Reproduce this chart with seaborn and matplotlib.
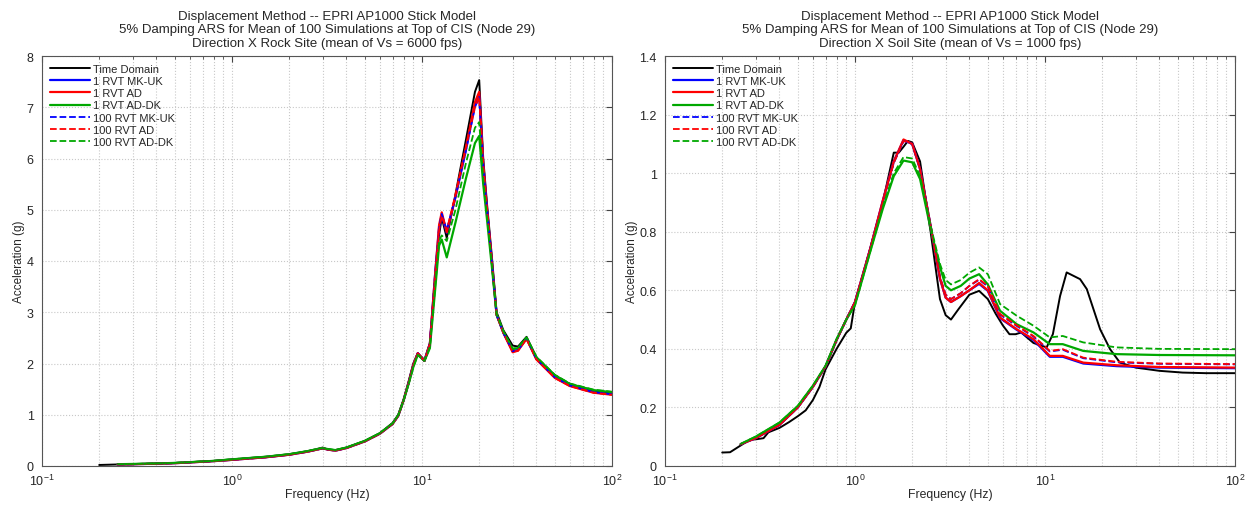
import numpy as np
import pandas as pd
import matplotlib
matplotlib.use("Agg")
import matplotlib.pyplot as plt
import seaborn as sns
from matplotlib.ticker import LogLocator, NullFormatter, MultipleLocator

sns.set_style("white")
plt.rcParams['font.family'] = ['Liberation Sans', 'DejaVu Sans']

# ---------------- data ----------------
labels = ["Time Domain", "1 RVT MK-UK", "1 RVT AD", "1 RVT AD-DK",
          "100 RVT MK-UK", "100 RVT AD", "100 RVT AD-DK"]

# Rock site (left)
rock_freq_td = [0.2, 0.25, 0.3, 0.4, 0.5, 0.6, 0.8, 1.0, 1.5, 2.0, 2.5, 2.8, 3.0, 3.2, 3.5, 4.0,
                5.0, 6.0, 7.0, 7.5, 8.0, 8.5, 9.0, 9.5, 10.3, 11.0, 11.7, 12.3, 12.7, 13.5, 15.0,
                17.0, 19.0, 20.0, 21.0, 22.0, 23.3, 24.7, 26.8, 30.0, 32.0, 35.5, 40.0, 50.0,
                60.0, 80.0, 100.0]
rock_freq_rvt = rock_freq_td[1:]

rock_td = [0.02, 0.03, 0.035, 0.05, 0.06, 0.075, 0.10, 0.13, 0.18, 0.23, 0.29, 0.33, 0.36, 0.32,
           0.31, 0.36, 0.49, 0.64, 0.84, 1.0, 1.3, 1.65, 2.0, 2.2, 2.07, 2.4, 3.6, 4.5, 4.85,
           4.45, 5.3, 6.35, 7.3, 7.53, 6.0, 5.1, 4.1, 3.0, 2.65, 2.35, 2.33, 2.52, 2.12, 1.77,
           1.6, 1.47, 1.43]
rock_1_mkuk = [0.03, 0.035, 0.045, 0.055, 0.07, 0.095, 0.12, 0.17, 0.22, 0.28, 0.32, 0.345, 0.32,
               0.30, 0.35, 0.48, 0.63, 0.82, 0.98, 1.28, 1.62, 1.97, 2.2, 2.05, 2.38, 3.7, 4.65,
               4.9, 4.55, 5.25, 6.15, 7.05, 7.25, 5.9, 5.0, 4.0, 2.95, 2.6, 2.24, 2.26, 2.49, 2.09,
               1.73, 1.57, 1.44, 1.40]
rock_1_ad = [0.03, 0.035, 0.045, 0.055, 0.07, 0.095, 0.12, 0.17, 0.22, 0.28, 0.32, 0.345, 0.32,
             0.30, 0.35, 0.48, 0.63, 0.82, 0.98, 1.28, 1.62, 1.97, 2.2, 2.05, 2.38, 3.7, 4.7,
             4.95, 4.56, 5.25, 6.2, 7.1, 7.3, 5.9, 5.0, 4.0, 2.95, 2.6, 2.22, 2.25, 2.48, 2.08,
             1.72, 1.56, 1.43, 1.39]
rock_1_addk = [0.035, 0.04, 0.05, 0.06, 0.075, 0.10, 0.13, 0.18, 0.23, 0.29, 0.33, 0.35, 0.33,
               0.31, 0.36, 0.49, 0.64, 0.83, 0.99, 1.28, 1.6, 1.93, 2.17, 2.05, 2.3, 3.4, 4.3,
               4.42, 4.07, 4.75, 5.6, 6.3, 6.44, 5.5, 4.8, 3.9, 2.95, 2.62, 2.28, 2.3, 2.5, 2.12,
               1.77, 1.6, 1.48, 1.44]
rock_100_mkuk = [0.03, 0.035, 0.045, 0.055, 0.07, 0.095, 0.12, 0.17, 0.22, 0.28, 0.32, 0.345,
                 0.32, 0.30, 0.35, 0.48, 0.63, 0.82, 0.98, 1.28, 1.62, 1.97, 2.2, 2.05, 2.38, 3.7,
                 4.65, 4.92, 4.6, 5.25, 6.15, 7.0, 7.2, 5.85, 5.0, 4.0, 2.95, 2.6, 2.24, 2.26,
                 2.49, 2.09, 1.73, 1.57, 1.44, 1.40]
rock_100_ad = [0.03, 0.035, 0.045, 0.055, 0.07, 0.095, 0.12, 0.17, 0.22, 0.28, 0.32, 0.345,
               0.32, 0.30, 0.35, 0.48, 0.63, 0.82, 0.98, 1.28, 1.62, 1.97, 2.2, 2.05, 2.38, 3.65,
               4.6, 4.88, 4.6, 5.3, 6.2, 7.0, 7.2, 5.85, 5.0, 4.0, 2.95, 2.6, 2.23, 2.25, 2.48,
               2.08, 1.72, 1.56, 1.43, 1.39]
rock_100_addk = [0.035, 0.04, 0.05, 0.06, 0.075, 0.10, 0.13, 0.18, 0.23, 0.29, 0.33, 0.35, 0.33,
                 0.31, 0.36, 0.49, 0.64, 0.83, 0.99, 1.28, 1.6, 1.93, 2.17, 2.05, 2.32, 3.45,
                 4.4, 4.5, 4.39, 5.0, 5.9, 6.6, 6.71, 5.6, 4.85, 3.95, 2.97, 2.63, 2.29, 2.31,
                 2.51, 2.13, 1.78, 1.61, 1.49, 1.45]

# Soil site (right)
soil_freq_td = [0.2, 0.22, 0.25, 0.28, 0.3, 0.33, 0.35, 0.4, 0.45, 0.5, 0.55, 0.6, 0.65, 0.7,
                0.8, 0.9, 0.95, 1.0, 1.1, 1.2, 1.4, 1.6, 1.7, 1.8, 1.9, 2.0, 2.2, 2.5, 2.8, 3.0,
                3.2, 3.5, 4.0, 4.5, 5.0, 5.5, 6.0, 6.5, 7.0, 7.5, 8.0, 8.7, 10.2, 11.0, 12.0,
                13.0, 15.3, 16.6, 19.5, 22.0, 24.8, 30.0, 40.0, 53.0, 70.0, 100.0]
soil_td = [0.046, 0.047, 0.07, 0.09, 0.091, 0.095, 0.115, 0.13, 0.15, 0.17, 0.19, 0.225, 0.27,
           0.33, 0.40, 0.455, 0.47, 0.56, 0.65, 0.74, 0.90, 1.07, 1.07, 1.09, 1.11, 1.105, 1.04,
           0.80, 0.57, 0.515, 0.50, 0.535, 0.585, 0.598, 0.57, 0.52, 0.48, 0.45, 0.45, 0.456,
           0.44, 0.42, 0.405, 0.45, 0.58, 0.661, 0.638, 0.604, 0.467, 0.399, 0.353, 0.336,
           0.325, 0.319, 0.317, 0.317]

soil_freq_rvt = [0.25, 0.3, 0.4, 0.5, 0.6, 0.7, 0.8, 0.9, 1.0, 1.2, 1.4, 1.6, 1.8, 2.0, 2.2, 2.5,
                 2.8, 3.0, 3.2, 3.6, 4.0, 4.5, 5.0, 5.8, 7.1, 8.7, 10.6, 12.4, 15.9, 23.8, 40.0,
                 100.0]
soil_1_mkuk = [0.074, 0.095, 0.14, 0.2, 0.27, 0.34, 0.43, 0.50, 0.56, 0.74, 0.905, 1.04, 1.112,
               1.10, 1.014, 0.82, 0.64, 0.575, 0.56, 0.58, 0.60, 0.622, 0.598, 0.505, 0.465,
               0.43, 0.373, 0.373, 0.35, 0.341, 0.336, 0.334]
soil_1_ad = [0.074, 0.095, 0.14, 0.2, 0.27, 0.34, 0.43, 0.50, 0.56, 0.74, 0.906, 1.04, 1.115,
             1.10, 1.014, 0.82, 0.64, 0.575, 0.56, 0.58, 0.60, 0.625, 0.60, 0.507, 0.467, 0.433,
             0.376, 0.376, 0.353, 0.344, 0.338, 0.336]
soil_1_addk = [0.075, 0.10, 0.148, 0.205, 0.274, 0.342, 0.433, 0.50, 0.55, 0.73, 0.878, 0.99,
               1.043, 1.037, 0.98, 0.81, 0.68, 0.615, 0.60, 0.615, 0.64, 0.655, 0.62, 0.53,
               0.484, 0.456, 0.416, 0.416, 0.393, 0.382, 0.379, 0.378]
soil_100_mkuk = [0.074, 0.095, 0.14, 0.2, 0.27, 0.34, 0.43, 0.50, 0.56, 0.74, 0.90, 1.035, 1.11,
                 1.10, 1.015, 0.82, 0.645, 0.585, 0.57, 0.59, 0.615, 0.636, 0.613, 0.517, 0.478,
                 0.442, 0.391, 0.397, 0.368, 0.354, 0.349, 0.347]
soil_100_ad = [0.074, 0.095, 0.14, 0.2, 0.27, 0.34, 0.43, 0.50, 0.56, 0.74, 0.90, 1.035, 1.11,
               1.10, 1.015, 0.82, 0.645, 0.585, 0.57, 0.59, 0.615, 0.638, 0.615, 0.519, 0.48,
               0.444, 0.393, 0.399, 0.37, 0.356, 0.35, 0.348]
soil_100_addk = [0.075, 0.10, 0.148, 0.205, 0.274, 0.342, 0.433, 0.50, 0.55, 0.73, 0.885, 1.0,
                 1.055, 1.05, 0.99, 0.82, 0.69, 0.635, 0.62, 0.635, 0.66, 0.678, 0.655, 0.553,
                 0.513, 0.479, 0.439, 0.444, 0.422, 0.405, 0.40, 0.399]

titles = ["Displacement Method -- EPRI AP1000 Stick Model\n"
          "5% Damping ARS for Mean of 100 Simulations at Top of CIS (Node 29)\n"
          "Direction X Rock Site (mean of Vs = 6000 fps)",
          "Displacement Method -- EPRI AP1000 Stick Model\n"
          "5% Damping ARS for Mean of 100 Simulations at Top of CIS (Node 29)\n"
          "Direction X Soil Site (mean of Vs = 1000 fps)"]

# ---------------- styles ----------------
colors = ["#000000", "#0000FF", "#FF0000", "#00A800", "#0000FF", "#FF0000", "#00A800"]
styles = ["-", "-", "-", "-", "--", "--", "--"]
widths = [1.4, 1.6, 1.6, 1.6, 1.3, 1.3, 1.3]

fig = plt.figure(figsize=(12.48, 5.06), dpi=100)
axL = fig.add_axes([42/1248, 1-467/506, 570/1248, 410/506])
axR = fig.add_axes([665/1248, 1-467/506, 570/1248, 410/506])

def draw(ax, freq_td, freq_rvt, series):
    for i, (lab, vals) in enumerate(zip(labels, series)):
        fx = freq_td if i == 0 else freq_rvt
        sns.lineplot(x=fx, y=vals, ax=ax, color=colors[i], linestyle=styles[i],
                     linewidth=widths[i], label=lab, estimator=None, sort=False)

draw(axL, rock_freq_td, rock_freq_rvt,
     [rock_td, rock_1_mkuk, rock_1_ad, rock_1_addk, rock_100_mkuk, rock_100_ad, rock_100_addk])
draw(axR, soil_freq_td, soil_freq_rvt,
     [soil_td, soil_1_mkuk, soil_1_ad, soil_1_addk, soil_100_mkuk, soil_100_ad, soil_100_addk])

for ax, title, ymax, ystep in [(axL, titles[0], 8, 1), (axR, titles[1], 1.4, 0.2)]:
    ax.set_xscale("log")
    ax.set_xlim(0.1, 100)
    ax.set_ylim(0, ymax)
    ax.yaxis.set_major_locator(MultipleLocator(ystep))
    ax.xaxis.set_major_locator(LogLocator(base=10, numticks=10))
    ax.xaxis.set_minor_locator(LogLocator(base=10, subs=np.arange(2, 10), numticks=20))
    ax.xaxis.set_minor_formatter(NullFormatter())
    ax.grid(True, which="major", axis="both", color="#c8c8c8", linestyle=":", linewidth=0.8)
    ax.grid(True, which="minor", axis="x", color="#c8c8c8", linestyle=":", linewidth=0.8)
    ax.tick_params(which="both", direction="in", top=True, right=True, labelsize=9,
                   color="#444444")
    ax.tick_params(which="major", length=4)
    ax.tick_params(which="minor", length=2)
    ax.tick_params(axis="x", which="major", pad=5)
    ax.tick_params(axis="y", which="major", pad=6)
    for s in ax.spines.values():
        s.set_color("#555555")
        s.set_linewidth(0.8)
    ax.set_xlabel("Frequency (Hz)", fontsize=8.8, labelpad=0)
    ax.set_ylabel("Acceleration (g)", fontsize=8.5, labelpad=1)
    ax.set_title(title, fontsize=9.5, linespacing=1.2, pad=7)
    leg = ax.legend(loc="upper left", fontsize=8, frameon=False, handlelength=3.6,
                    labelspacing=0.2, borderaxespad=0.4, handletextpad=0.3,
                    borderpad=0.3)
    if ax is axR:
        ax.set_yticks(np.arange(0, 1.41, 0.2))
        ax.set_yticklabels(["0", "0.2", "0.4", "0.6", "0.8", "1", "1.2", "1.4"])

fig.savefig("out.png", dpi=100)
